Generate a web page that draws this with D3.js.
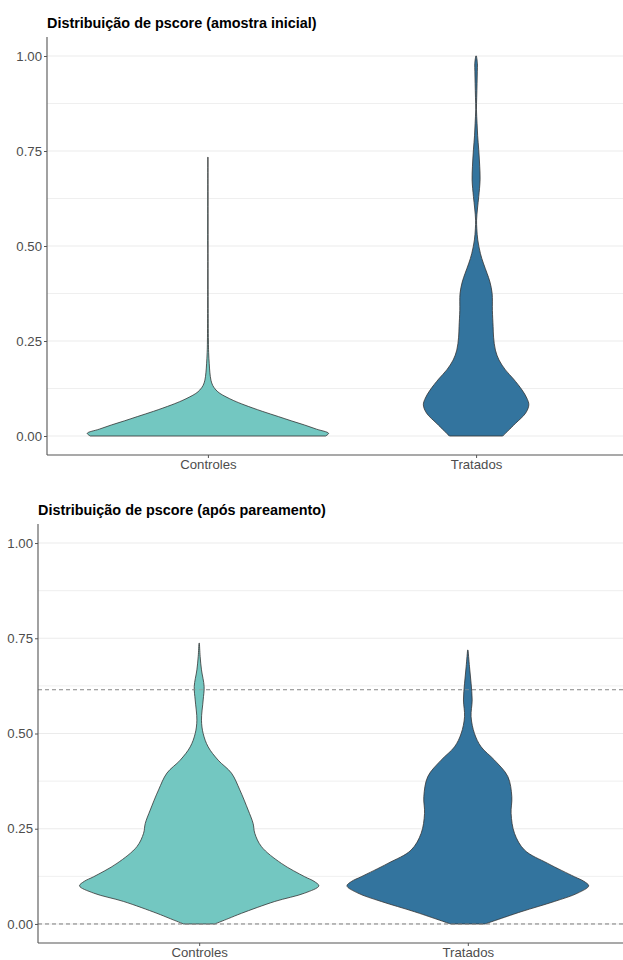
<!DOCTYPE html>
<html><head><meta charset="utf-8">
<script src="https://cdn.jsdelivr.net/npm/d3@7"></script>
<style>body{margin:0;background:#fff}svg{display:block;font-family:"Liberation Sans",Arial,sans-serif}</style>
</head><body>
<svg id="c" width="623" height="960"></svg>
<script>
const categories = ["Controles","Tratados"];
const colors = ["#73c7c1","#33749e"];
const yTicks = [0,0.25,0.5,0.75,1];
const yMinor = [0.125,0.375,0.625,0.875];
const titles = ["Distribuição de pscore (amostra inicial)","Distribuição de pscore (após pareamento)"];
const caliperLines = [0, 0.615];

// Violin profiles: [pscore, relative density width]
const inicialControles = [[0,0.975],[0.007,1.0],[0.018,0.9],[0.029,0.8],[0.04,0.69],[0.051,0.585],[0.065,0.45],[0.082,0.3],[0.093,0.215],[0.103,0.15],[0.112,0.1],[0.121,0.067],[0.133,0.04],[0.147,0.025],[0.168,0.016],[0.19,0.011],[0.22,0.006],[0.25,0.004],[0.35,0.002],[0.5,0.001],[0.734,0.0005]];
const inicialTratados = [[0,0.221],[0.033,0.326],[0.06,0.41],[0.082,0.437],[0.1,0.42],[0.121,0.381],[0.15,0.31],[0.174,0.243],[0.2,0.19],[0.226,0.16],[0.26,0.145],[0.288,0.141],[0.33,0.135],[0.375,0.133],[0.405,0.115],[0.428,0.091],[0.455,0.06],[0.48,0.036],[0.516,0.014],[0.545,0.006],[0.568,0.004],[0.6,0.012],[0.63,0.022],[0.674,0.033],[0.71,0.03],[0.753,0.022],[0.79,0.013],[0.823,0.008],[0.86,0.003],[0.89,0.005],[0.928,0.008],[0.96,0.01],[0.98,0.011],[1.0,0.003]];
const pareadoControles = [[0,0.13],[0.014,0.24],[0.028,0.35],[0.059,0.625],[0.081,0.873],[0.1,0.99],[0.112,0.95],[0.124,0.873],[0.159,0.68],[0.203,0.515],[0.238,0.46],[0.264,0.446],[0.299,0.405],[0.352,0.336],[0.396,0.267],[0.43,0.157],[0.465,0.074],[0.5,0.033],[0.535,0.019],[0.588,0.033],[0.623,0.041],[0.667,0.019],[0.702,0.008],[0.737,0.002]];
const pareadoTratados = [[0,0.143],[0.032,0.44],[0.059,0.716],[0.081,0.909],[0.1,1.0],[0.112,0.96],[0.124,0.882],[0.159,0.661],[0.194,0.469],[0.238,0.386],[0.29,0.358],[0.334,0.364],[0.387,0.331],[0.43,0.221],[0.465,0.11],[0.5,0.055],[0.544,0.027],[0.588,0.036],[0.632,0.027],[0.675,0.014],[0.719,0.002]];

const panels = [
  {title:titles[0], data:[inicialControles,inicialTratados], left:47, right:637, top:37, bottom:455, titleY:28, dashed:false},
  {title:titles[1], data:[pareadoControles,pareadoTratados], left:38, right:629, top:524, bottom:943, titleY:515, dashed:true}
];

const svg = d3.select("#c");
panels.forEach(p => {
  const g = svg.append("g");
  const x = d3.scalePoint().domain(categories).range([p.left,p.right]).padding(0.6);
  const y = d3.scaleLinear().domain([-0.05,1.05]).range([p.bottom,p.top]);
  const w = d3.scaleLinear().domain([0,1]).range([0, x.step()*0.45]);
  const gridR = 623;
  g.selectAll(".minor").data(yMinor).join("line")
    .attr("x1",p.left).attr("x2",gridR).attr("y1",d=>y(d)).attr("y2",d=>y(d))
    .attr("stroke","#ebebeb").attr("stroke-width",0.8);
  g.selectAll(".major").data(yTicks).join("line")
    .attr("x1",p.left).attr("x2",gridR).attr("y1",d=>y(d)).attr("y2",d=>y(d))
    .attr("stroke","#ebebeb").attr("stroke-width",1.1);
  if (p.dashed) {
    g.selectAll(".dash").data(caliperLines).join("line")
      .attr("x1",p.left).attr("x2",gridR).attr("y1",d=>y(d)).attr("y2",d=>y(d))
      .attr("stroke","#999").attr("stroke-width",1).attr("stroke-dasharray","4,3");
  }
  p.data.forEach((prof,i) => {
    const cx = x(categories[i]);
    const area = d3.area().curve(d3.curveCatmullRom)
      .y(d=>y(d[0])).x0(d=>cx-w(d[1])).x1(d=>cx+w(d[1]));
    g.append("path").datum(prof).attr("d",area)
      .attr("fill",colors[i]).attr("stroke","#333").attr("stroke-width",0.8);
  });
  if (p.dashed) {
    g.selectAll(".dash2").data(caliperLines).join("line")
      .attr("x1",p.left).attr("x2",gridR).attr("y1",d=>y(d)).attr("y2",d=>y(d))
      .attr("stroke","#999").attr("stroke-width",1).attr("stroke-dasharray","4,3").attr("opacity",0.6);
  }
  const ya = g.append("g").attr("transform",`translate(${p.left},0)`)
    .call(d3.axisLeft(y).tickValues(yTicks).tickFormat(d3.format(".2f")).tickSize(3).tickPadding(2));
  const xa = g.append("g").attr("transform",`translate(0,${p.bottom})`)
    .call(d3.axisBottom(x).tickSize(3).tickPadding(2));
  [ya,xa].forEach(a=>{
    a.select(".domain").attr("stroke","#555").attr("stroke-width",1.1);
    a.selectAll(".tick line").attr("stroke","#555");
    a.selectAll("text").attr("fill","#4d4d4d").style("font-size","13.2px").style("font-family","'Liberation Sans',Arial,sans-serif");
  });
  xa.select(".domain").attr("d",`M${p.left},0H${p.right}`);
  ya.select(".domain").attr("d",`M0,${p.top}V${p.bottom}`);
  g.append("text").attr("x",p.left).attr("y",p.titleY).text(p.title)
    .attr("font-weight","bold").attr("font-size","14.4px").attr("fill","#000");
});
</script>
</body></html>
